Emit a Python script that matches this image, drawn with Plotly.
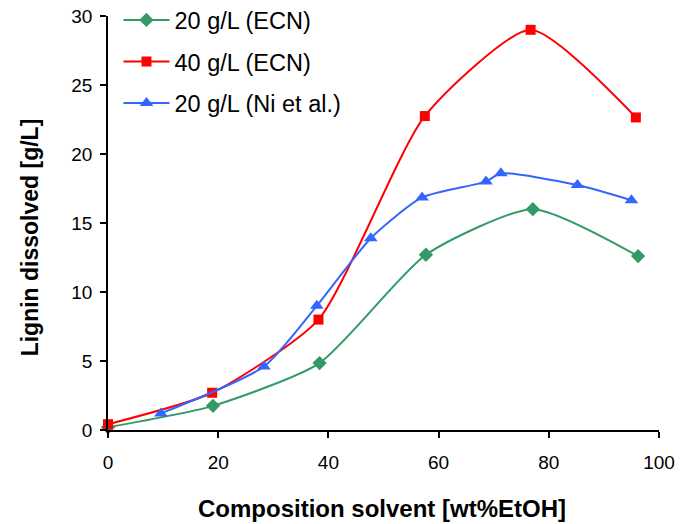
import plotly.graph_objects as go

# Data
x_green = [0, 19.05, 38.4, 57.7, 77.1, 96.2]
y_green = [0.2, 1.75, 4.85, 12.7, 16.0, 12.6]

x_red = [0, 18.9, 38.2, 57.5, 76.7, 95.8]
y_red = [0.42, 2.7, 8.0, 22.75, 29.0, 22.65]

x_blue = [9.6, 28.3, 37.9, 47.7, 57.0, 68.6, 71.3, 85.2, 95.0]
y_blue = [1.2, 4.6, 9.0, 13.9, 16.85, 18.0, 18.6, 17.75, 16.65]

names = ["20 g/L (ECN)", "40 g/L (ECN)", "20 g/L (Ni et al.)"]
x_ticks = [0, 20, 40, 60, 80, 100]
y_ticks = [0, 5, 10, 15, 20, 25, 30]

FONT = "Liberation Sans, Arial, sans-serif"

fig = go.Figure()
fig.add_trace(go.Scatter(x=x_green, y=y_green, name=names[0], mode="lines+markers",
                         line=dict(color="#339966", width=2, shape="spline", smoothing=0.6),
                         marker=dict(symbol="diamond", size=11, color="#339966"),
                         cliponaxis=False, legendgroup="a"))
fig.add_trace(go.Scatter(x=x_red, y=y_red, name=names[1], mode="lines+markers",
                         line=dict(color="#FF0000", width=2, shape="spline", smoothing=0.6),
                         marker=dict(symbol="square", size=10, color="#FF0000"),
                         cliponaxis=False, legendgroup="b"))
fig.add_trace(go.Scatter(x=x_blue, y=y_blue, name=names[2], mode="lines+markers",
                         line=dict(color="#3366FF", width=2, shape="spline", smoothing=0.6),
                         marker=dict(symbol="triangle-up", size=12, color="#3366FF"),
                         cliponaxis=False, legendgroup="c"))

fig.update_layout(
    width=685, height=524,
    margin=dict(l=108, r=26, t=16, b=94, autoexpand=False),
    paper_bgcolor="white", plot_bgcolor="white",
    font=dict(family=FONT, color="black", size=18),
    showlegend=True,
    legend=dict(x=0.019, y=1.043, xref="paper", yref="paper",
                xanchor="left", yanchor="top",
                font=dict(size=23.5, family=FONT), bgcolor="rgba(0,0,0,0)",
                tracegroupgap=8, traceorder="grouped", itemwidth=46),
    xaxis=dict(range=[0, 100], tickvals=x_ticks, showgrid=False, zeroline=False,
               showline=True, linecolor="black", linewidth=1.5,
               ticks="outside", ticklen=6, tickwidth=1.5, tickcolor="black",
               ticklabelstandoff=8, tickfont=dict(size=19)),
    yaxis=dict(range=[0, 30], tickvals=y_ticks, showgrid=False, zeroline=False,
               showline=True, linecolor="black", linewidth=1.5,
               ticks="outside", ticklen=6, tickwidth=1.5, tickcolor="black",
               ticklabelstandoff=4, tickfont=dict(size=19)),
    annotations=[
        dict(text="<b>Composition solvent [wt%EtOH]</b>", xref="paper", yref="paper",
             x=0.497, y=-0.19, xanchor="center", yanchor="middle", showarrow=False,
             font=dict(size=24, family=FONT)),
        dict(text="<b>Lignin dissolved [g/L]</b>", xref="paper", yref="paper",
             x=-0.14, y=0.465, xanchor="center", yanchor="middle", showarrow=False,
             textangle=-90, font=dict(size=23, family=FONT)),
    ],
)

fig.write_html("out.html")
